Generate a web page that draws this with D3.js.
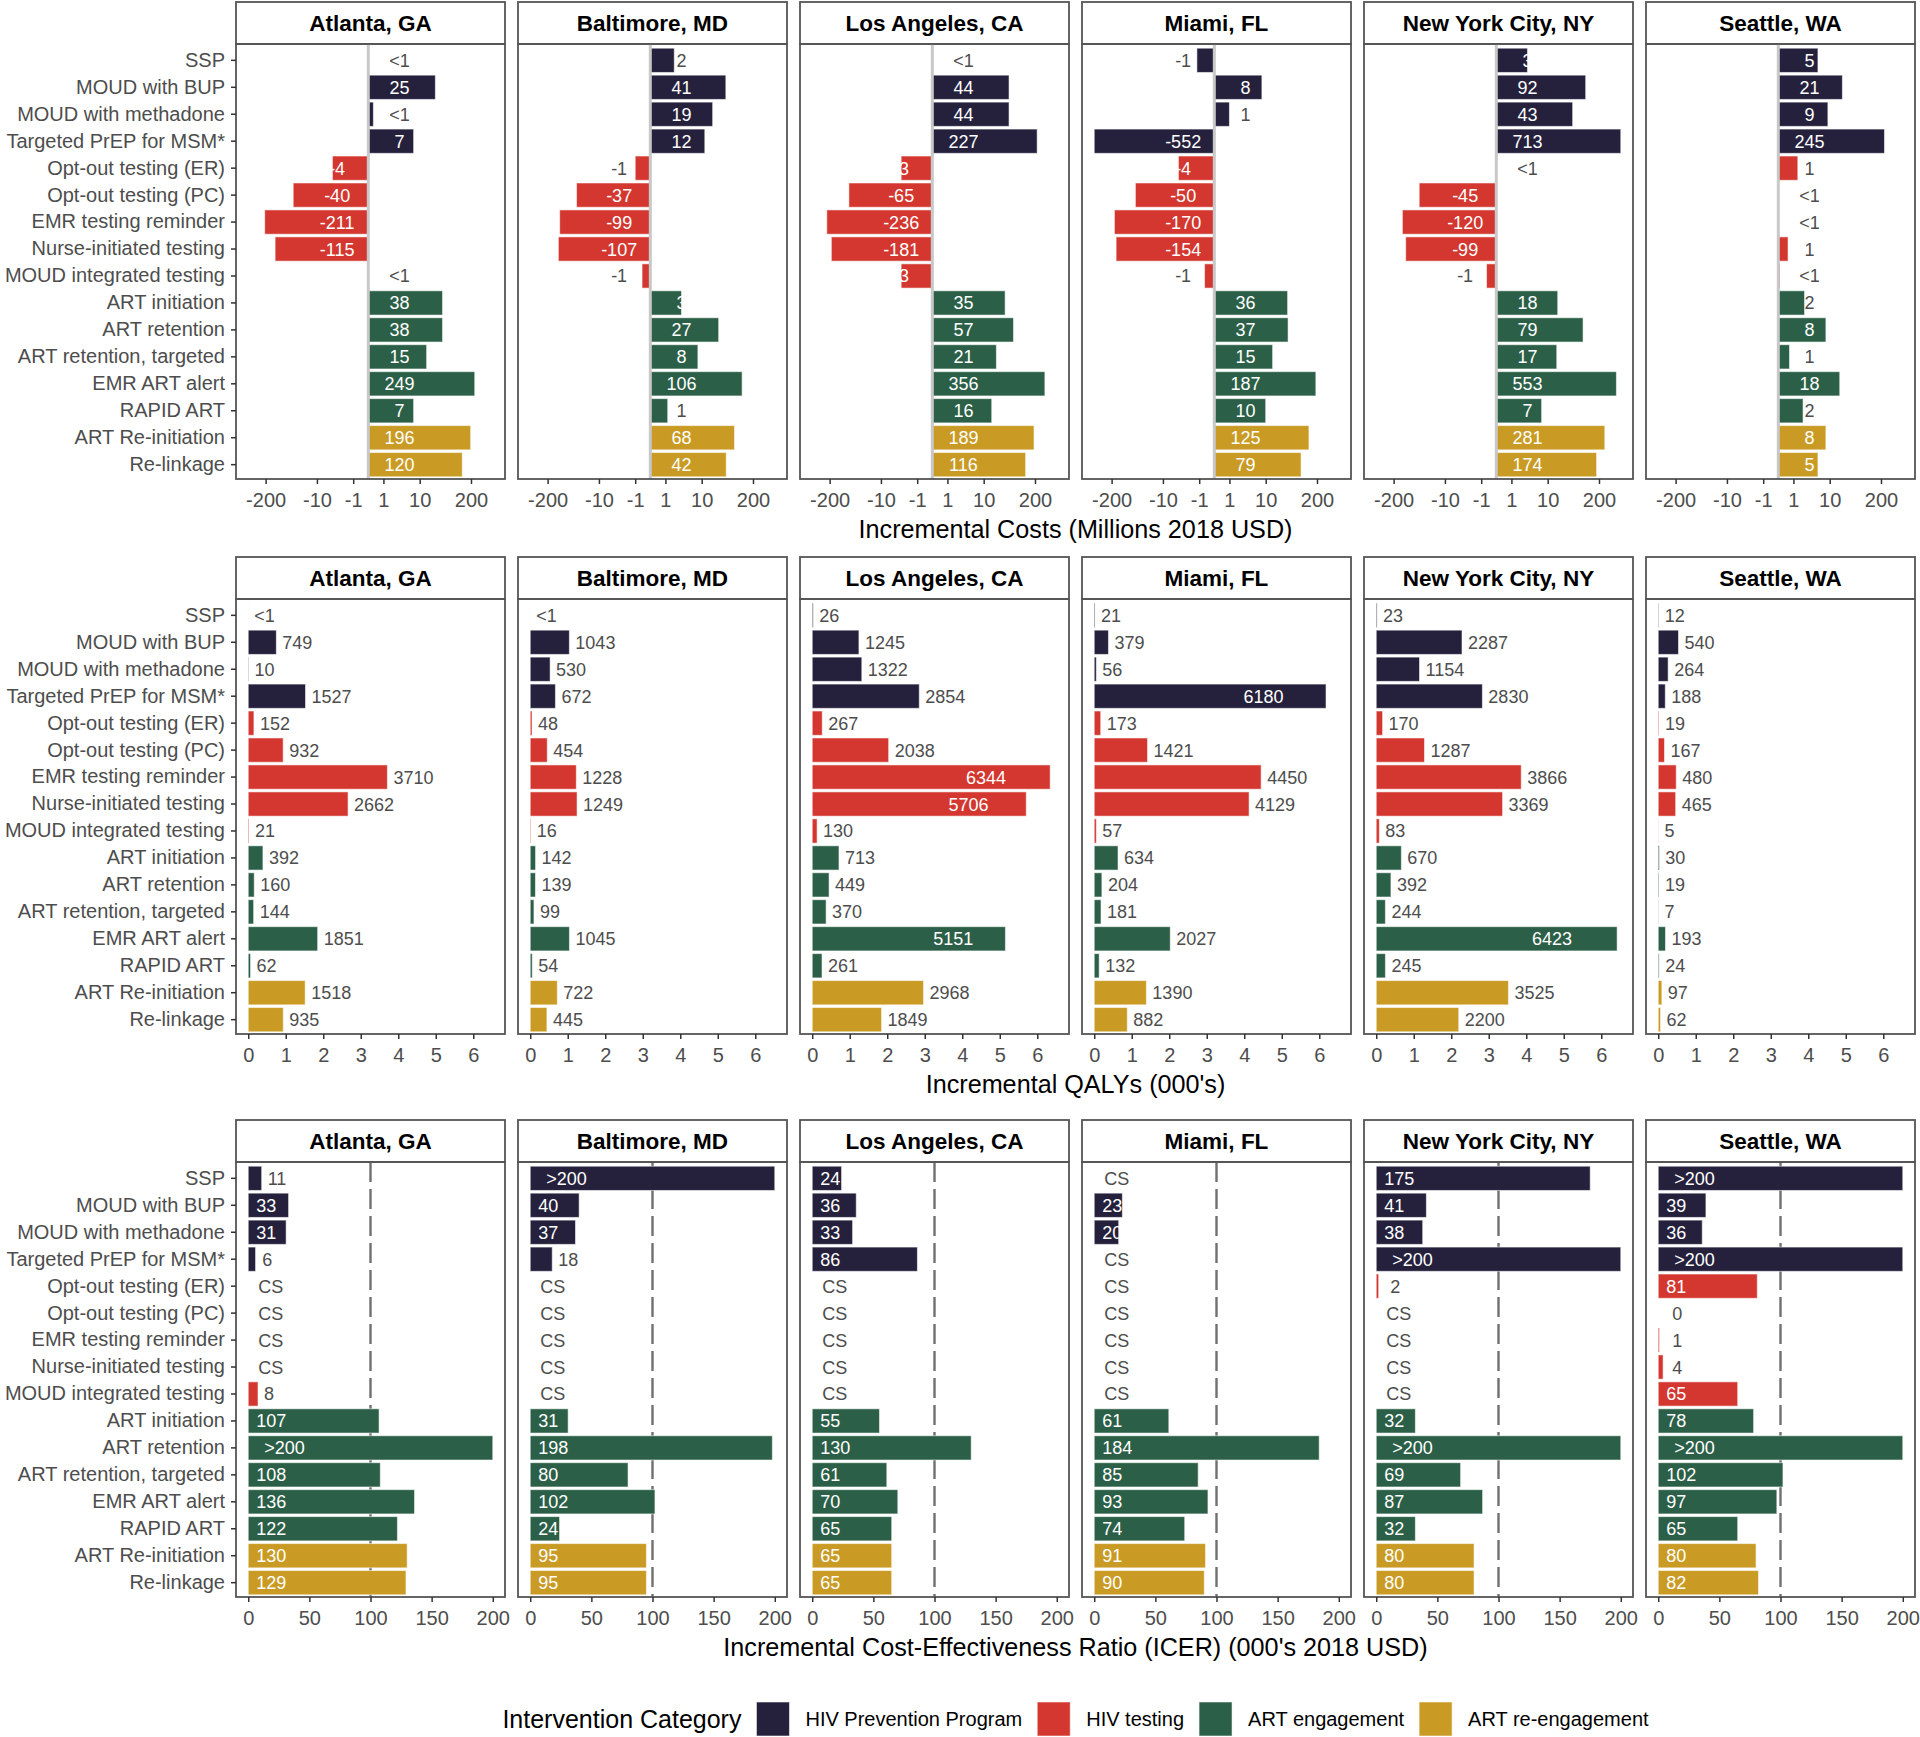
<!DOCTYPE html>
<html><head><meta charset="utf-8">
<script src="https://cdn.jsdelivr.net/npm/d3@7"></script>
<style>
body{margin:0;background:#fff}
text{font-family:"Liberation Sans",Arial,Helvetica,sans-serif}
</style>
</head><body>
<svg id="c" width="1920" height="1737"></svg>
<script>
// ---------------- DATA ----------------
const cities = ["Atlanta, GA","Baltimore, MD","Los Angeles, CA","Miami, FL","New York City, NY","Seattle, WA"];
const categories = ["SSP","MOUD with BUP","MOUD with methadone","Targeted PrEP for MSM*","Opt-out testing (ER)","Opt-out testing (PC)","EMR testing reminder","Nurse-initiated testing","MOUD integrated testing","ART initiation","ART retention","ART retention, targeted","EMR ART alert","RAPID ART","ART Re-initiation","Re-linkage"];
const categoryGroup = [0,0,0,0,1,1,1,1,1,2,2,2,2,2,3,3];
const groupNames = ["HIV Prevention Program","HIV testing","ART engagement","ART re-engagement"];
const groupColors = ["#25213c","#d3372f","#2c5f47","#c99b24"];

// Incremental costs (millions 2018 USD)
const costAtlanta   = [0, 25, 0.3, 7, -4, -40, -211, -115, 0, 38, 38, 15, 249, 7, 196, 120];
const costBaltimore = [1.9, 41, 19, 12, -1, -37, -99, -107, -0.5, 3, 27, 8, 106, 1.2, 68, 42];
const costLosAngeles= [0, 44, 44, 227, -3, -65, -236, -181, -3, 35, 57, 21, 356, 16, 189, 116];
const costMiami     = [-1.2, 8, 1, -552, -4, -50, -170, -154, -0.6, 36, 37, 15, 187, 10, 125, 79];
const costNewYork   = [3, 92, 43, 713, 0, -45, -120, -99, -0.6, 18, 79, 17, 553, 7, 281, 174];
const costSeattle   = [5, 21, 9, 245, 1.4, 0, 0, 0.6, 0.1, 2.2, 8, 0.7, 18, 2, 8, 5];

const costLabelAtlanta   = ["<1","25","<1","7","-4","-40","-211","-115","<1","38","38","15","249","7","196","120"];
const costLabelBaltimore = ["2","41","19","12","-1","-37","-99","-107","-1","3","27","8","106","1","68","42"];
const costLabelLosAngeles= ["<1","44","44","227","-3","-65","-236","-181","-3","35","57","21","356","16","189","116"];
const costLabelMiami     = ["-1","8","1","-552","-4","-50","-170","-154","-1","36","37","15","187","10","125","79"];
const costLabelNewYork   = ["3","92","43","713","<1","-45","-120","-99","-1","18","79","17","553","7","281","174"];
const costLabelSeattle   = ["5","21","9","245","1","<1","<1","1","<1","2","8","1","18","2","8","5"];

// Incremental QALYs
const qalyAtlanta   = [0.4, 749, 10, 1527, 152, 932, 3710, 2662, 21, 392, 160, 144, 1851, 62, 1518, 935];
const qalyBaltimore = [0.4, 1043, 530, 672, 48, 454, 1228, 1249, 16, 142, 139, 99, 1045, 54, 722, 445];
const qalyLosAngeles= [26, 1245, 1322, 2854, 267, 2038, 6344, 5706, 130, 713, 449, 370, 5151, 261, 2968, 1849];
const qalyMiami     = [21, 379, 56, 6180, 173, 1421, 4450, 4129, 57, 634, 204, 181, 2027, 132, 1390, 882];
const qalyNewYork   = [23, 2287, 1154, 2830, 170, 1287, 3866, 3369, 83, 670, 392, 244, 6423, 245, 3525, 2200];
const qalySeattle   = [12, 540, 264, 188, 19, 167, 480, 465, 5, 30, 19, 7, 193, 24, 97, 62];

// ICER (000's 2018 USD per QALY); CS = cost saving
const icerAtlanta   = ["11","33","31","6","CS","CS","CS","CS","8","107",">200","108","136","122","130","129"];
const icerBaltimore = [">200","40","37","18","CS","CS","CS","CS","CS","31","198","80","102","24","95","95"];
const icerLosAngeles= ["24","36","33","86","CS","CS","CS","CS","CS","55","130","61","70","65","65","65"];
const icerMiami     = ["CS","23","20","CS","CS","CS","CS","CS","CS","61","184","85","93","74","91","90"];
const icerNewYork   = ["175","41","38",">200","2","CS","CS","CS","CS","32",">200","69","87","32","80","80"];
const icerSeattle   = [">200","39","36",">200","81","0","1","4","65","78",">200","102","97","65","80","82"];

const costTicks = [-200,-10,-1,1,10,200];
const costTickLabels = ["-200","-10","-1","1","10","200"];
const qalyTicks = [0,1,2,3,4,5,6];
const icerTicks = [0,50,100,150,200];
const icerThreshold = 100;
const qalyDomainMax = 6.52;
const icerDomainMax = 200;

const rowTitles = ["Incremental Costs (Millions 2018 USD)","Incremental QALYs (000's)","Incremental Cost-Effectiveness Ratio (ICER) (000's 2018 USD)"];
const legendTitle = "Intervention Category";

const costValues = [costAtlanta,costBaltimore,costLosAngeles,costMiami,costNewYork,costSeattle];
const costLabels = [costLabelAtlanta,costLabelBaltimore,costLabelLosAngeles,costLabelMiami,costLabelNewYork,costLabelSeattle];
const qalyValues = [qalyAtlanta,qalyBaltimore,qalyLosAngeles,qalyMiami,qalyNewYork,qalySeattle];
const icerLabels = [icerAtlanta,icerBaltimore,icerLosAngeles,icerMiami,icerNewYork,icerSeattle];

// ---------------- LAYOUT ----------------
const svg = d3.select("#c");
const GRAY = "#4d4d4d", BORDER = "#555555";
const rowTops = [2, 557, 1120];
const stripH = 42, panelH = 435;
const col = d3.scaleBand().domain(cities).range([236, 1915]).paddingInner(0.0461);
const panelW = col.bandwidth();
const y = d3.scaleBand().domain(categories).range([1.5, panelH+0.5]).paddingInner(0.1).paddingOuter(0.1);

// scales
const cExt = d3.extent(costValues.flat().map(Math.asinh));
const cPad = (cExt[1]-cExt[0])*0.05;
const xCostT = d3.scaleLinear().domain([cExt[0]-cPad, cExt[1]+cPad]).range([0, panelW]);
const xCost = v => xCostT(Math.asinh(v));
const xQ = d3.scaleLinear().domain([-qalyDomainMax*0.05, qalyDomainMax*1.05]).range([0, panelW]);
const xI = d3.scaleLinear().domain([-icerDomainMax*0.05, icerDomainMax*1.05]).range([0, panelW]);

function styleAxis(g){
  g.select(".domain").remove();
  g.selectAll(".tick line").attr("stroke","#333").attr("stroke-width",1.5);
  g.selectAll(".tick text").attr("fill",GRAY).attr("font-size",20)
   .style("font-family",'"Liberation Sans",Arial,sans-serif');
}

function frame(r, ci){
  const left = col(cities[ci]);
  const top = rowTops[r];
  const g = svg.append("g").attr("transform",`translate(${left},${top})`);
  g.append("rect").attr("x",0).attr("y",0).attr("width",panelW).attr("height",stripH)
    .attr("fill","#fff").attr("stroke",BORDER).attr("stroke-width",1.8);
  g.append("text").attr("x",panelW/2).attr("y",stripH/2+8).attr("text-anchor","middle")
    .attr("font-size",22.5).attr("font-weight","bold").attr("fill","#000").text(cities[ci]);
  const p = g.append("g").attr("transform",`translate(0,${stripH})`);
  return {g, p};
}
function finish(r, ci, p, xAxis){
  p.append("rect").attr("width",panelW).attr("height",panelH).attr("fill","none")
    .attr("stroke",BORDER).attr("stroke-width",1.8);
  const ax = p.append("g").attr("transform",`translate(0,${panelH})`).call(xAxis);
  styleAxis(ax);
  if(ci===0){
    const ay = p.append("g").call(d3.axisLeft(y).tickSize(5).tickPadding(6));
    styleAxis(ay);
  }
}
function bars(p, data, xs){
  p.selectAll("rect.bar").data(data).join("rect").attr("class","bar")
    .attr("x",d=>Math.min(xs(0),xs(d.v)))
    .attr("width",d=>Math.abs(xs(d.v)-xs(0)))
    .attr("y",d=>y(d.cat)).attr("height",y.bandwidth())
    .attr("fill",d=>groupColors[d.grp])
    .attr("stroke","#ffffff").attr("stroke-opacity",0.55).attr("stroke-width",1);
}

// ---------------- ROW 1: COSTS ----------------
cities.forEach((city, ci)=>{
  const {p} = frame(0, ci);
  const data = categories.map((c,i)=>({cat:c, grp:categoryGroup[i], v:costValues[ci][i], lab:costLabels[ci][i]}));
  bars(p, data.filter(d=>d.v!==0), xCost);
  p.append("line").attr("x1",xCost(0)).attr("x2",xCost(0)).attr("y1",0).attr("y2",panelH)
    .attr("stroke","#c8c8c8").attr("stroke-width",3);
  p.selectAll("text.lab").data(data).join("text").attr("class","lab")
    .attr("x",d=>xCost(d.v<0?-3:3))
    .attr("y",d=>y(d.cat)+y.bandwidth()/2+6.5)
    .attr("text-anchor","middle").attr("font-size",18)
    .attr("fill",d=>Math.abs(d.v)>=2.5?"#fff":GRAY).text(d=>d.lab);
  finish(0, ci, p, d3.axisBottom(xCostT).tickValues(costTicks.map(Math.asinh))
    .tickFormat((d,i)=>costTickLabels[i]).tickSize(5).tickPadding(9));
});

// ---------------- ROW 2: QALYs ----------------
cities.forEach((city, ci)=>{
  const {p} = frame(1, ci);
  const data = categories.map((c,i)=>({cat:c, grp:categoryGroup[i], v:qalyValues[ci][i]/1000, raw:qalyValues[ci][i]}));
  bars(p, data, xQ);
  p.selectAll("text.lab").data(data).join("text").attr("class","lab")
    .attr("x",d=>d.v>=5 ? xQ(d.v*0.73) : xQ(d.v)+6)
    .attr("y",d=>y(d.cat)+y.bandwidth()/2+6.5)
    .attr("text-anchor",d=>d.v>=5?"middle":"start").attr("font-size",18)
    .attr("fill",d=>d.v>=5?"#fff":GRAY)
    .text(d=>d.raw<1?"<1":String(d.raw));
  finish(1, ci, p, d3.axisBottom(xQ).tickValues(qalyTicks).tickFormat(d3.format("d")).tickSize(5).tickPadding(9));
});

// ---------------- ROW 3: ICER ----------------
cities.forEach((city, ci)=>{
  const {p} = frame(2, ci);
  const data = categories.map((c,i)=>{
    const lab = icerLabels[ci][i];
    const v = lab==="CS" ? null : (lab.startsWith(">") ? +lab.slice(1) : +lab);
    return {cat:c, grp:categoryGroup[i], v, lab};
  });
  p.append("line").attr("x1",xI(icerThreshold)).attr("x2",xI(icerThreshold)).attr("y1",0).attr("y2",panelH)
    .attr("stroke","#707070").attr("stroke-width",2.4).attr("stroke-dasharray","20,7");
  bars(p, data.filter(d=>d.v!==null && d.v>0), xI);
  p.selectAll("text.lab").data(data).join("text").attr("class","lab")
    .attr("x",d=>{
      if(d.v===null) return xI(0)+10;
      if(d.v>=20) return xI(0)+8+(d.lab.startsWith(">")?8:0);
      return Math.max(xI(d.v), xI(0)+8)+6;
    })
    .attr("y",d=>y(d.cat)+y.bandwidth()/2+6.5)
    .attr("text-anchor","start").attr("font-size",18)
    .attr("fill",d=>(d.v!==null && d.v>=20)?"#fff":GRAY).text(d=>d.lab);
  finish(2, ci, p, d3.axisBottom(xI).tickValues(icerTicks).tickFormat(d3.format("d")).tickSize(5).tickPadding(9));
});

// ---------------- AXIS TITLES ----------------
const plotCenter = (col(cities[0]) + col(cities[5]) + panelW)/2;
rowTitles.forEach((t,r)=>{
  svg.append("text").attr("x",plotCenter).attr("y",rowTops[r]+stripH+panelH+59)
    .attr("text-anchor","middle").attr("font-size",25.2).attr("fill","#000").text(t);
});

// ---------------- LEGEND ----------------
const leg = svg.append("g");
const legY = 1719;
let cx = 0;
const lt = leg.append("text").attr("x",cx).attr("y",legY+9).attr("font-size",25).attr("fill","#000").text(legendTitle);
cx += lt.node().getComputedTextLength() + 15;
groupNames.forEach((name,i)=>{
  leg.append("rect").attr("x",cx).attr("y",legY-17).attr("width",33).attr("height",34)
    .attr("fill",groupColors[i]).attr("stroke","#fff").attr("stroke-opacity",0.55);
  cx += 33 + 16;
  const t = leg.append("text").attr("x",cx).attr("y",legY+7).attr("font-size",20).attr("fill","#000").text(name);
  cx += t.node().getComputedTextLength() + 15;
});
cx -= 15;
leg.attr("transform",`translate(${plotCenter - cx/2},0)`);
</script>
</body></html>
